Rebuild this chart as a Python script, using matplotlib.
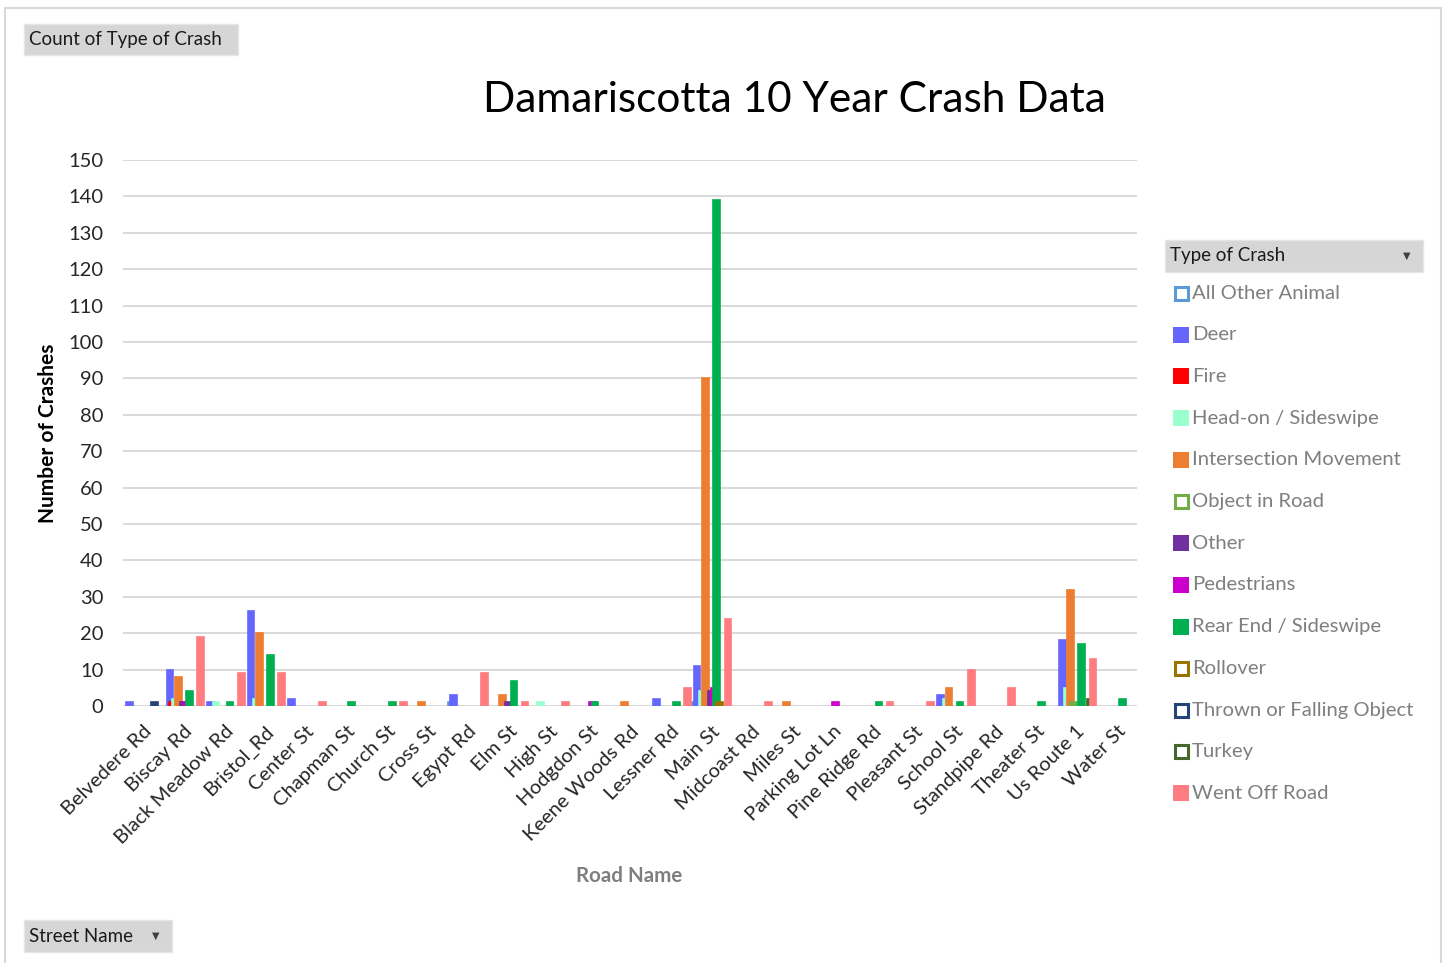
import numpy as np
import matplotlib
matplotlib.use("Agg")
import matplotlib.pyplot as plt
from matplotlib.patches import Rectangle

# ---- data -------------------------------------------------------------------
roads = ["Belvedere Rd", "Biscay Rd", "Black Meadow Rd", "Bristol_Rd", "Center St",
         "Chapman St", "Church St", "Cross St", "Egypt Rd", "Elm St", "High St",
         "Hodgdon St", "Keene Woods Rd", "Lessner Rd", "Main St", "Midcoast Rd",
         "Miles St", "Parking Lot Ln", "Pine Ridge Rd", "Pleasant St", "School St",
         "Standpipe Rd", "Theater St", "Us Route 1", "Water St"]

crash_types = ["All Other Animal", "Deer", "Fire", "Head-on / Sideswipe",
               "Intersection Movement", "Object in Road", "Other", "Pedestrians",
               "Rear End / Sideswipe", "Rollover", "Thrown or Falling Object",
               "Turkey", "Went Off Road"]

# counts per road, in the order of `roads`
all_other_animal = [0, 0, 0, 0, 0, 0, 0, 0, 1, 0, 0, 0, 0, 0, 1, 0, 0, 0, 0, 0, 0, 0, 0, 0, 0]
deer             = [1, 10, 1, 26, 2, 0, 0, 0, 3, 0, 0, 0, 0, 2, 11, 0, 0, 0, 0, 0, 3, 0, 0, 18, 0]
fire             = [0, 1, 0, 0, 0, 0, 0, 0, 0, 0, 0, 0, 0, 0, 0, 0, 0, 0, 0, 0, 0, 0, 0, 0, 0]
head_on          = [0, 2, 1, 2, 0, 0, 0, 0, 0, 0, 1, 0, 0, 0, 4, 0, 0, 0, 0, 0, 2, 0, 0, 5, 0]
intersection     = [0, 8, 0, 20, 0, 0, 0, 1, 0, 3, 0, 0, 1, 0, 90, 0, 1, 0, 0, 0, 5, 0, 0, 32, 0]
object_in_road   = [0, 0, 0, 0, 0, 0, 0, 0, 0, 0, 0, 0, 0, 0, 0, 0, 0, 0, 0, 0, 0, 0, 0, 1, 0]
other            = [0, 1, 0, 0, 0, 0, 0, 0, 0, 1, 0, 0, 0, 0, 4, 0, 0, 0, 0, 0, 0, 0, 0, 0, 0]
pedestrians      = [0, 1, 0, 0, 0, 0, 0, 0, 0, 0, 0, 1, 0, 0, 5, 0, 0, 1, 0, 0, 0, 0, 0, 0, 0]
rear_end         = [0, 4, 1, 14, 0, 1, 1, 0, 0, 7, 0, 1, 0, 1, 139, 0, 0, 0, 1, 0, 1, 0, 1, 17, 2]
rollover         = [0, 0, 0, 0, 0, 0, 0, 0, 0, 0, 0, 0, 0, 0, 1, 0, 0, 0, 0, 0, 0, 0, 0, 0, 0]
thrown           = [1, 0, 0, 0, 0, 0, 0, 0, 0, 0, 0, 0, 0, 0, 0, 0, 0, 0, 0, 0, 0, 0, 0, 0, 0]
turkey           = [0, 0, 0, 0, 0, 0, 0, 0, 0, 0, 0, 0, 0, 0, 0, 0, 0, 0, 0, 0, 0, 0, 0, 2, 0]
went_off_road    = [0, 19, 9, 9, 1, 0, 1, 0, 9, 1, 1, 0, 0, 5, 24, 1, 0, 0, 1, 1, 10, 5, 0, 13, 0]

series = [all_other_animal, deer, fire, head_on, intersection, object_in_road, other,
          pedestrians, rear_end, rollover, thrown, turkey, went_off_road]

colors = ["#5B9BD5", "#6666FF", "#FF0000", "#99FFCC", "#ED7D31", "#70AD47", "#7030A0",
          "#CC00CC", "#00B050", "#997300", "#264478", "#43682B", "#FF7C80"]
hollow = {"All Other Animal", "Object in Road", "Rollover", "Thrown or Falling Object", "Turkey"}

plt.rcParams["font.family"] = ["Lato", "DejaVu Sans"]

W, H = 1445, 963
def fx(x): return x / W
def fy(y): return 1 - y / H

fig = plt.figure(figsize=(W / 100, H / 100), dpi=100)
ax = fig.add_axes([fx(123), fy(706), fx(1137) - fx(123), fy(160) - fy(706)])

# ---- bars (overlapping clustered columns, later series in front) ------------
x = np.arange(len(roads))
step, bw = 0.069, 0.165
for i, (vals, col) in enumerate(zip(series, colors)):
    lw = [1.2 if v > 0 else 0 for v in vals]   # no outline on empty cells
    ax.bar(x + (i - 6) * step, vals, width=bw, color=col, edgecolor=col,
           linewidth=lw, zorder=3)

ax.set_xlim(-0.5, len(roads) - 0.5)
ax.set_ylim(0, 150)
ax.set_yticks(range(0, 151, 10))
ax.yaxis.grid(True, color="#D9D9D9", linewidth=1.4, zorder=0)
ax.set_axisbelow(True)
for s in ax.spines.values():
    s.set_visible(False)
ax.tick_params(axis="y", length=0, pad=14, labelsize=14.5, labelcolor="#262626")
ax.tick_params(axis="x", length=0, pad=12, labelsize=14.5, labelcolor="#262626")
ax.set_xticks(x)
ax.set_xticklabels(roads, rotation=45, ha="right", va="top", rotation_mode="anchor")

# ---- texts ------------------------------------------------------------------
fig.text(fx(794), fy(100), "Damariscotta 10 Year Crash Data", fontsize=30.5,
         ha="center", va="center", color="#000000")
fig.text(fx(48), fy(433), "Number of Crashes", rotation=90, fontsize=15,
         fontweight="bold", ha="center", va="center", color="#000000")
fig.text(fx(629), fy(876), "Road Name", fontsize=14.8, fontweight="bold",
         ha="center", va="center", color="#7F7F7F")

# outer chart frame
fig.patches.append(Rectangle((fx(5), fy(975)), fx(1441) - fx(5), fy(8) - fy(975),
                             transform=fig.transFigure, facecolor="none",
                             edgecolor="#D9D9D9", linewidth=1.5))

def button(x0, y0, x1, y1, label, arrow_x=None):
    fig.patches.append(Rectangle((fx(x0), fy(y1)), fx(x1) - fx(x0), fy(y0) - fy(y1),
                                 transform=fig.transFigure, facecolor="#D6D6D6",
                                 edgecolor="#E6E6E6", linewidth=1))
    fig.text(fx(x0 + 5), fy((y0 + y1) / 2), label, fontsize=13.5, ha="left",
             va="center", color="#1A1A1A")
    if arrow_x is not None:
        fig.text(fx(arrow_x), fy((y0 + y1) / 2), "▼", fontsize=7, ha="center",
                 va="center", color="#404040", family="DejaVu Sans")

button(24, 24, 238, 55, "Count of Type of Crash")
button(24, 920, 172, 952, "Street Name", arrow_x=156)
button(1165, 240, 1423, 272, "Type of Crash", arrow_x=1407)

# ---- legend -----------------------------------------------------------------
for i, (name, col) in enumerate(zip(crash_types, colors)):
    yc = 293 + i * 41.7
    if name in hollow:
        fig.patches.append(Rectangle((fx(1174.5), fy(yc + 6.5)), fx(13) - fx(0), fy(0) - fy(13),
                                     transform=fig.transFigure, facecolor="white",
                                     edgecolor=col, linewidth=2.2))
    else:
        fig.patches.append(Rectangle((fx(1173), fy(yc + 8)), fx(16) - fx(0), fy(0) - fy(16),
                                     transform=fig.transFigure, facecolor=col,
                                     edgecolor="none"))
    fig.text(fx(1192), fy(yc), name, fontsize=14.6, ha="left", va="center",
             color="#7F7F7F")

fig.savefig("out.png", dpi=100)
